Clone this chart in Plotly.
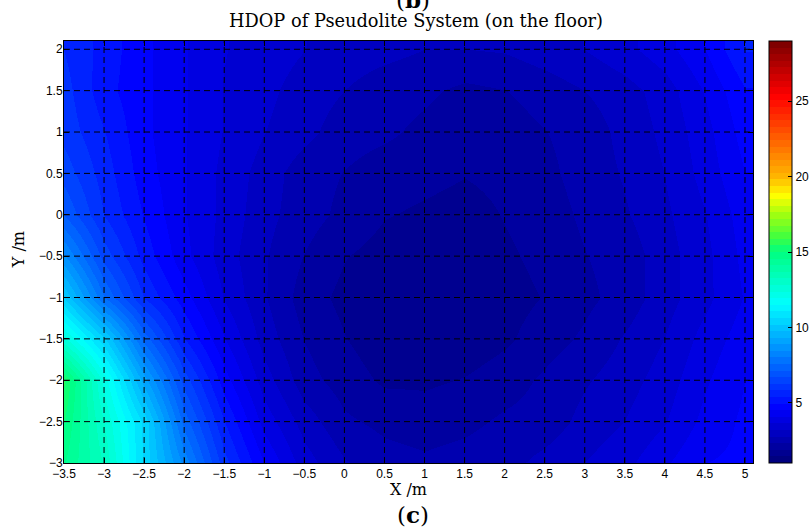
import numpy as np
import plotly.graph_objects as go

# ---- data ----
x_nodes = [-3.5, -3.0, -2.5, -2.0, -1.5, -1.0, -0.5, 0.0, 0.5, 1.0, 1.5, 2.0, 2.5, 3.0, 3.5, 4.0, 4.5, 5.0]
y_nodes = [-3.0, -2.5, -2.0, -1.5, -1.0, -0.5, 0.0, 0.5, 1.0, 1.5, 2.0]
hdop = [
    [14.6, 13.2, 10.5, 8.3, 6.0, 4.5, 3.4, 2.8, 2.5, 2.4, 2.5, 2.6, 2.9, 3.2, 3.5, 4.0, 4.5, 4.6],
    [15.0, 12.8, 10.5, 7.4, 5.4, 3.9, 3.0, 2.4, 2.2, 2.1, 2.2, 2.4, 2.5, 2.9, 3.2, 3.6, 4.2, 4.6],
    [15.5, 12.2, 9.1, 6.5, 4.7, 3.4, 2.5, 2.1, 1.8, 1.8, 1.9, 2.1, 2.4, 2.7, 3.0, 3.4, 4.0, 4.5],
    [12.5, 10.3, 7.4, 5.4, 4.1, 3.0, 2.3, 1.9, 1.6, 1.5, 1.6, 1.8, 2.1, 2.4, 2.8, 3.2, 3.8, 4.3],
    [10.2, 7.6, 5.8, 4.7, 3.6, 2.8, 2.1, 1.75, 1.6, 1.5, 1.5, 1.7, 1.9, 2.2, 2.5, 3.0, 3.5, 4.1],
    [8.5, 6.5, 5.2, 4.2, 3.4, 2.8, 2.3, 1.9, 1.7, 1.6, 1.6, 1.8, 2.0, 2.3, 2.5, 3.0, 3.5, 4.2],
    [7.1, 5.8, 4.9, 4.1, 3.5, 2.9, 2.5, 2.2, 1.9, 1.8, 1.7, 1.9, 2.1, 2.4, 2.7, 3.1, 3.6, 4.3],
    [6.5, 5.6, 4.7, 4.1, 3.5, 3.0, 2.5, 2.3, 2.1, 2.0, 1.9, 2.0, 2.2, 2.5, 2.8, 3.2, 3.8, 4.5],
    [6.1, 5.4, 4.6, 4.1, 3.6, 3.2, 2.9, 2.5, 2.4, 2.2, 2.0, 2.1, 2.3, 2.5, 2.9, 3.3, 3.9, 4.7],
    [6.0, 5.1, 4.6, 4.1, 3.6, 3.3, 3.0, 2.75, 2.5, 2.4, 2.2, 2.3, 2.5, 2.75, 3.0, 3.4, 4.1, 4.9],
    [5.8, 5.2, 4.6, 4.1, 3.65, 3.4, 3.2, 3.0, 2.9, 2.75, 2.75, 2.8, 3.0, 3.2, 3.5, 3.9, 4.5, 5.4],
]
x_ticks = [-3.5, -3, -2.5, -2, -1.5, -1, -0.5, 0, 0.5, 1, 1.5, 2, 2.5, 3, 3.5, 4, 4.5, 5]
y_ticks = [-3, -2.5, -2, -1.5, -1, -0.5, 0, 0.5, 1, 1.5, 2]
cbar_ticks = [5, 10, 15, 20, 25]
c_min, c_max = 1, 29

# ---- jet-like 64-step colour map, as it appears in the reference colour bar ----
cmap_vals = [1, 4.5, 11.5, 15, 16, 17.5, 18.8, 20, 25.5, 29]
cmap_rgb = [(0, 0, 128), (0, 0, 255), (0, 255, 255), (0, 255, 128), (64, 255, 64),
            (160, 255, 16), (255, 255, 0), (255, 184, 0), (255, 0, 0), (128, 0, 0)]
n_levels = 64
cs = []
arr = np.array(cmap_rgb, dtype=float)
for i in range(n_levels):
    v = c_min + (c_max - c_min) * i / (n_levels - 1)
    rgb = [np.interp(v, cmap_vals, arr[:, k]) for k in range(3)]
    col = "rgb(%d,%d,%d)" % tuple(int(round(c)) for c in rgb)
    cs.append([i / n_levels, col])
    cs.append([(i + 1) / n_levels, col])

fig = go.Figure()
fig.add_trace(go.Heatmap(
    x=x_nodes, y=y_nodes, z=hdop,
    colorscale=cs, zmin=c_min, zmax=c_max, zsmooth="best",
    colorbar=dict(
        x=1.0237, xanchor="left", xpad=0, y=0.5, yanchor="middle", len=1, lenmode="fraction",
        ypad=0, thickness=23, outlinewidth=1, outlinecolor="black",
        tickvals=cbar_ticks, ticks="inside", ticklen=4, tickcolor="black",
        tickfont=dict(family="Liberation Sans, Arial", size=12, color="black"),
    ),
))

grid_line = dict(color="black", width=1, dash="6px,4px")
shapes = []
for xv in x_ticks[1:]:
    shapes.append(dict(type="line", xref="x", yref="paper", x0=xv, x1=xv, y0=0, y1=1,
                       line=grid_line, layer="above"))
for yv in y_ticks[1:]:
    shapes.append(dict(type="line", xref="paper", yref="y", x0=0, x1=1, y0=yv, y1=yv,
                       line=grid_line, layer="above"))

serif = "DejaVu Serif"
ann = [
    dict(text="HDOP of Pseudolite System (on the floor)", x=0.511, y=1.0474, xref="paper", yref="paper",
         xanchor="center", yanchor="middle", showarrow=False, font=dict(family=serif, size=17.8, color="black")),
    dict(text="(<b>b</b>)", x=0.5068, y=1.0625, xref="paper", yref="paper",
         xanchor="center", yanchor="bottom", showarrow=False, font=dict(family=serif, size=23, color="black")),
    dict(text="(<b>c</b>)", x=0.5068, y=-0.1209, xref="paper", yref="paper",
         xanchor="center", yanchor="middle", showarrow=False, font=dict(family=serif, size=23, color="black")),
    dict(text="X /m", x=0.4995, y=-0.062, xref="paper", yref="paper",
         xanchor="center", yanchor="middle", showarrow=False, font=dict(family=serif, size=16, color="black")),
    dict(text="Y /m", x=-0.0665, y=0.5047, xref="paper", yref="paper", textangle=-90,
         xanchor="center", yanchor="middle", showarrow=False, font=dict(family=serif, size=16, color="black")),
]

axis_common = dict(showgrid=False, zeroline=False, showline=True, linecolor="black", linewidth=1,
                   mirror="ticks", ticks="inside", ticklen=5, tickcolor="black", layer="above traces",
                   tickfont=dict(family="Liberation Sans, Arial", size=12, color="black"))

fig.update_layout(
    width=809, height=531,
    margin=dict(l=64, r=56, t=41, b=68, pad=0, autoexpand=False),
    paper_bgcolor="white", plot_bgcolor="white",
    xaxis=dict(range=[-3.5, 5.1], tickvals=x_ticks, ticklabelstandoff=0, **axis_common),
    yaxis=dict(range=[-3, 2.1], tickvals=y_ticks, ticklabelstandoff=-2, **axis_common),
    shapes=shapes, annotations=ann, showlegend=False,
)

fig.write_html("out.html", config={"displayModeBar": False},
               post_script="document.body.style.margin='0';")
